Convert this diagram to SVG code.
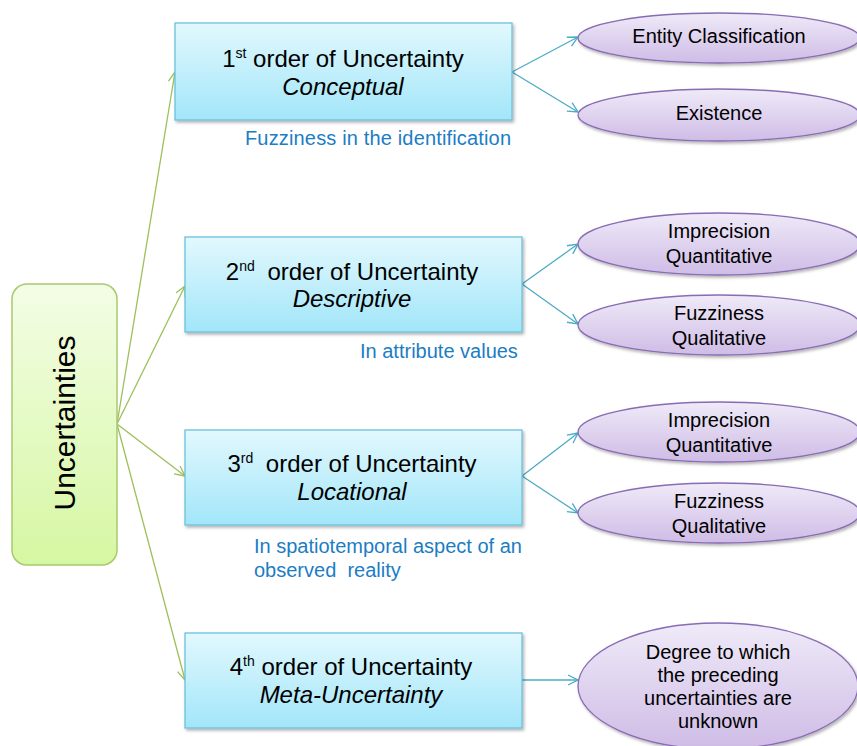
<svg xmlns="http://www.w3.org/2000/svg" width="857" height="746" viewBox="0 0 857 746">
  <defs>
    <linearGradient id="gRoot" x1="0" y1="0" x2="0" y2="1">
      <stop offset="0" stop-color="#f3fde6"/>
      <stop offset="1" stop-color="#d6f7a2"/>
    </linearGradient>
    <linearGradient id="gBox" x1="0" y1="0" x2="0" y2="1">
      <stop offset="0" stop-color="#e2f8fe"/>
      <stop offset="1" stop-color="#a2e6f9"/>
    </linearGradient>
    <linearGradient id="gOval" x1="0" y1="0" x2="0" y2="1">
      <stop offset="0" stop-color="#efeaf8"/>
      <stop offset="1" stop-color="#cfbce6"/>
    </linearGradient>
    <filter id="shadow" x="-10%" y="-10%" width="120%" height="130%">
      <feDropShadow dx="1.5" dy="2" stdDeviation="1.5" flood-color="#000" flood-opacity="0.3"/>
    </filter>
    <marker id="arrG" viewBox="0 0 12 12" refX="11" refY="6" markerWidth="12" markerHeight="12" markerUnits="userSpaceOnUse" orient="auto">
      <path d="M1,1 L11,6 L1,11" fill="none" stroke="#9cc05a" stroke-width="1.3"/>
    </marker>
    <marker id="arrB" viewBox="0 0 12 12" refX="11" refY="6" markerWidth="12" markerHeight="12" markerUnits="userSpaceOnUse" orient="auto">
      <path d="M1,1 L11,6 L1,11" fill="none" stroke="#4bacc6" stroke-width="1.3"/>
    </marker>
  </defs>
  <style>
    text { font-family: "Liberation Sans", Arial, sans-serif; fill: #000; }
    .root { fill: url(#gRoot); stroke: #a8c96c; stroke-width: 1.5; }
    .box { fill: url(#gBox); stroke: #6cc2da; stroke-width: 1.3; filter: url(#shadow); }
    .oval { fill: url(#gOval); stroke: #8a6cb4; stroke-width: 1.3; filter: url(#shadow); }
    .t24 { font-size: 24px; text-anchor: middle; }
    .it { font-style: italic; }
    .sup { font-size: 14px; }
    .t20 { font-size: 20px; text-anchor: middle; }
    .note { font-size: 20px; fill: #1b7dc4; }
    .cg { stroke: #9cc05a; stroke-width: 1.3; fill: none; marker-end: url(#arrG); }
    .cb { stroke: #4bacc6; stroke-width: 1.3; fill: none; marker-end: url(#arrB); }
  </style>

  <!-- connectors -->
  <g id="connectors">
    <line class="cg" x1="117" y1="424" x2="175" y2="72"/>
    <line class="cg" x1="117" y1="424" x2="185" y2="286"/>
    <line class="cg" x1="117" y1="424" x2="185" y2="476"/>
    <line class="cg" x1="117" y1="424" x2="185" y2="680"/>
    <line class="cb" x1="512" y1="72" x2="578" y2="37"/>
    <line class="cb" x1="512" y1="72" x2="578" y2="112"/>
    <line class="cb" x1="522" y1="284" x2="578" y2="244"/>
    <line class="cb" x1="522" y1="284" x2="578" y2="324"/>
    <line class="cb" x1="522" y1="476" x2="578" y2="433"/>
    <line class="cb" x1="522" y1="476" x2="578" y2="513"/>
    <line class="cb" x1="522" y1="680" x2="578" y2="680"/>
  </g>

  <!-- root -->
  <g id="uncertainties">
    <rect class="root" x="12" y="284" width="105" height="281" rx="15" ry="15"/>
    <text transform="translate(75,423) rotate(-90)" font-size="30" text-anchor="middle">Uncertainties</text>
  </g>

  <!-- order boxes -->
  <g id="order1">
    <rect class="box" x="175" y="23" width="337" height="97"/>
    <text class="t24" x="343" y="67">1<tspan class="sup" dy="-9">st</tspan><tspan dy="9"> order of Uncertainty</tspan></text>
    <text class="t24 it" x="343" y="95">Conceptual</text>
    <text class="note" x="245" y="145" textLength="266">Fuzziness in the identification</text>
  </g>

  <g id="order2">
    <rect class="box" x="185" y="237" width="337" height="95"/>
    <text class="t24" x="352" y="280">2<tspan class="sup" dy="-9">nd</tspan><tspan dy="9" dx="6"> order of Uncertainty</tspan></text>
    <text class="t24 it" x="352" y="307">Descriptive</text>
    <text class="note" x="360" y="358">In attribute values</text>
  </g>

  <g id="order3">
    <rect class="box" x="185" y="430" width="337" height="95"/>
    <text class="t24" x="352" y="472">3<tspan class="sup" dy="-9">rd</tspan><tspan dy="9" dx="6"> order of Uncertainty</tspan></text>
    <text class="t24 it" x="352" y="500">Locational</text>
    <text class="note" x="254" y="553">In spatiotemporal aspect of an</text>
    <text class="note" x="254" y="577">observed&#160; reality</text>
  </g>

  <g id="order4">
    <rect class="box" x="185" y="633" width="337" height="95"/>
    <text class="t24" x="351" y="675">4<tspan class="sup" dy="-9">th</tspan><tspan dy="9"> order of Uncertainty</tspan></text>
    <text class="t24 it" x="351" y="703">Meta-Uncertainty</text>
  </g>

  <!-- leaf ovals -->
  <g id="entity-classification">
    <ellipse class="oval" cx="719" cy="38" rx="141" ry="25"/>
    <text class="t20" x="719" y="43">Entity Classification</text>
  </g>
  <g id="existence">
    <ellipse class="oval" cx="719" cy="115" rx="141" ry="26"/>
    <text class="t20" x="719" y="120">Existence</text>
  </g>
  <g id="imprecision-2">
    <ellipse class="oval" cx="719" cy="244" rx="141" ry="31"/>
    <text class="t20" x="719" y="238">Imprecision</text>
    <text class="t20" x="719" y="263">Quantitative</text>
  </g>
  <g id="fuzziness-2">
    <ellipse class="oval" cx="719" cy="325" rx="141" ry="30"/>
    <text class="t20" x="719" y="320">Fuzziness</text>
    <text class="t20" x="719" y="345">Qualitative</text>
  </g>
  <g id="imprecision-3">
    <ellipse class="oval" cx="719" cy="432" rx="141" ry="30"/>
    <text class="t20" x="719" y="427">Imprecision</text>
    <text class="t20" x="719" y="452">Quantitative</text>
  </g>
  <g id="fuzziness-3">
    <ellipse class="oval" cx="719" cy="513" rx="141" ry="30"/>
    <text class="t20" x="719" y="508">Fuzziness</text>
    <text class="t20" x="719" y="533">Qualitative</text>
  </g>
  <g id="meta-degree">
    <ellipse class="oval" cx="718" cy="686" rx="140" ry="63"/>
    <text class="t20" x="718" y="659">Degree to which</text>
    <text class="t20" x="718" y="682">the preceding</text>
    <text class="t20" x="718" y="705">uncertainties are</text>
    <text class="t20" x="718" y="728">unknown</text>
  </g>
</svg>
